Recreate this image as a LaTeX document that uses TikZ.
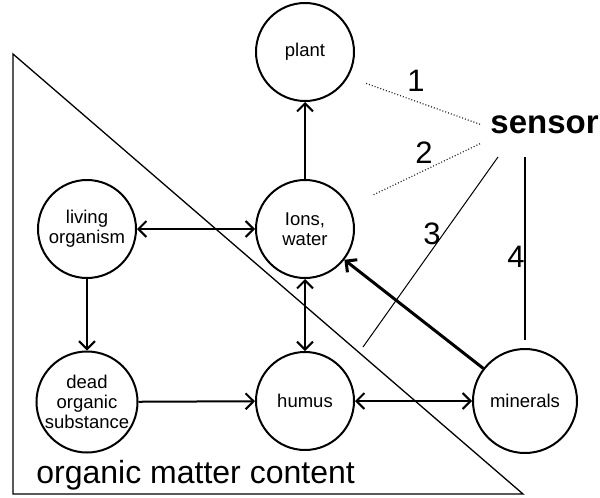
\documentclass[tikz,border=0pt]{standalone}
\usepackage{fontspec}
\setmainfont{Liberation Sans}
\usetikzlibrary{arrows.meta,positioning}

\begin{document}
\begin{tikzpicture}[
    x=0.5pt, y=-0.5pt, on grid,
    pool/.style={draw, circle, line width=1pt, minimum size=49pt, inner sep=0pt,
                 align=center, font=\fontsize{9.25}{10}\selectfont},
    arrow/.style={-{Straight Barb[length=4pt,width=8pt]}, line width=1pt},
    both/.style={{Straight Barb[length=4pt,width=8pt]}-{Straight Barb[length=4pt,width=8pt]},
                 line width=1pt},
    probe/.style={line width=0.5pt},
    num/.style={font=\fontsize{15.5}{15.5}\selectfont},
]
\useasboundingbox (0,0) rectangle (600,498);

% Region of organic matter
\draw[line width=0.65pt] (13,54) -- (13,494) -- (523,494) -- cycle;
\node[anchor=base west, inner sep=0pt, font=\fontsize{16}{16}\selectfont] (omc)
    at (36,483) {organic matter content};

% Pools
\node[pool] (ions) at (305,229) {Ions,\\water};
\node[pool, above=88.5pt of ions] (plant) {plant};
\node[pool, left=109pt of ions] (living) {living\\organism};
\node[pool, below=86.5pt of living, minimum size=50.5pt] (dead) {dead\\organic\\substance};
\node[pool, below=86pt of ions] (humus) {humus};
\node[pool, right=110pt of humus, minimum size=52pt] (minerals) {minerals};

% Flows
\draw[arrow] (ions) -- (plant);
\draw[both] (living) -- (ions);
\draw[arrow] (living) -- (dead);
\draw[arrow] (dead) -- (humus);
\draw[both] (ions) -- (humus);
\draw[both] (humus) -- (minerals);
\draw[arrow, line width=1.5pt] (minerals) -- (ions);

% Sensor
\node[anchor=base west, inner sep=5pt, font=\bfseries\fontsize{16.5}{16.5}\selectfont]
    (sensor) at (480,133) {sensor};
\coordinate (p1) at (365,83);
\coordinate (p2) at (373,195);
\coordinate (s3) at (498,157);
\coordinate (p3) at (363,347);
\coordinate (s4) at (525,157);
\coordinate (p4) at (525,340);
\draw[probe, densely dotted, line width=0.6pt, black!85] (sensor.west) -- (p1);
\draw[probe, densely dotted, line width=0.6pt, black!85] (sensor.south west) -- (p2);
\draw[probe] (s3) -- (p3);
\draw[probe, line width=0.8pt] (s4) -- (p4);
\node[num] (n1) at (416,81) {1};
\node[num] (n2) at (424,153) {2};
\node[num] (n3) at (432,234) {3};
\node[num] (n4) at (516,257) {4};

\end{tikzpicture}
\end{document}
